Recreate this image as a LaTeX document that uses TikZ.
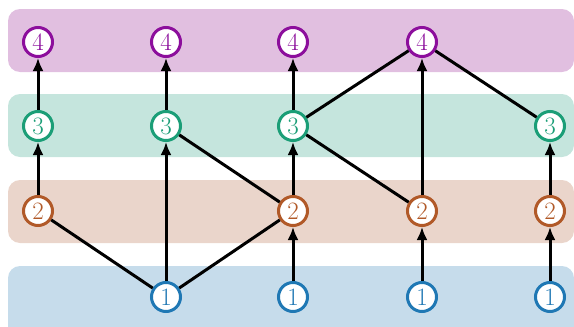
\documentclass[tikz,border=0pt]{standalone}
\usetikzlibrary{arrows.meta}
\definecolor{cpur}{HTML}{8C0E9C}
\definecolor{cgrn}{HTML}{1B9E77}
\definecolor{cbrn}{HTML}{B15928}
\definecolor{cblu}{HTML}{1F78B4}
\definecolor{bpur}{HTML}{E1BFE0}
\definecolor{bgrn}{HTML}{C5E5DD}
\definecolor{bbrn}{HTML}{EAD5CB}
\definecolor{bblu}{HTML}{C6DCEB}
\begin{document}
\begin{tikzpicture}[x=1pt,y=-1pt,
  vnode/.style={circle,draw=#1,text=#1,fill=white,line width=3pt,minimum size=29pt,inner sep=0pt,font=\fontsize{25}{29}\selectfont},
  band/.style={fill=#1,rounded corners=12pt},
  arr/.style={line width=3pt,-{Latex[length=13pt,width=11pt]}},
  lin/.style={line width=3pt}]
\useasboundingbox (0,0) rectangle (574,327);
\begin{scope}
\clip (0,0) rectangle (574,327);
\fill[band=bpur] (8,9) rectangle (574,72);
\fill[band=bgrn] (8,94) rectangle (574,157);
\fill[band=bbrn] (8,180) rectangle (574,243);
\fill[band=bblu] (8,266) rectangle (574,345);
\end{scope}
% row 4
\node[vnode=cpur] (d1) at (38,42) {4};
\node[vnode=cpur] (d2) at (166,42) {4};
\node[vnode=cpur] (d3) at (293,42) {4};
\node[vnode=cpur] (d4) at (422,42) {4};
% row 3
\node[vnode=cgrn] (c1) at (38,126) {3};
\node[vnode=cgrn] (c2) at (166,126) {3};
\node[vnode=cgrn] (c3) at (293,126) {3};
\node[vnode=cgrn] (c5) at (550,126) {3};
% row 2
\node[vnode=cbrn] (b1) at (38,211) {2};
\node[vnode=cbrn] (b3) at (293,211) {2};
\node[vnode=cbrn] (b4) at (422,211) {2};
\node[vnode=cbrn] (b5) at (550,211) {2};
% row 1
\node[vnode=cblu] (a2) at (166,297) {1};
\node[vnode=cblu] (a3) at (293,297) {1};
\node[vnode=cblu] (a4) at (422,297) {1};
\node[vnode=cblu] (a5) at (550,297) {1};
% edges
\draw[arr] (c1) -- (d1);
\draw[arr] (c2) -- (d2);
\draw[arr] (c3) -- (d3);
\draw[lin] (c3) -- (d4);
\draw[lin] (d4) -- (c5);
\draw[arr] (b4) -- (d4);
\draw[arr] (b1) -- (c1);
\draw[arr] (a2) -- (c2);
\draw[lin] (c2) -- (b3);
\draw[arr] (b3) -- (c3);
\draw[lin] (c3) -- (b4);
\draw[arr] (b5) -- (c5);
\draw[lin] (b1) -- (a2);
\draw[lin] (a2) -- (b3);
\draw[arr] (a3) -- (b3);
\draw[arr] (a4) -- (b4);
\draw[arr] (a5) -- (b5);
\end{tikzpicture}
\end{document}
